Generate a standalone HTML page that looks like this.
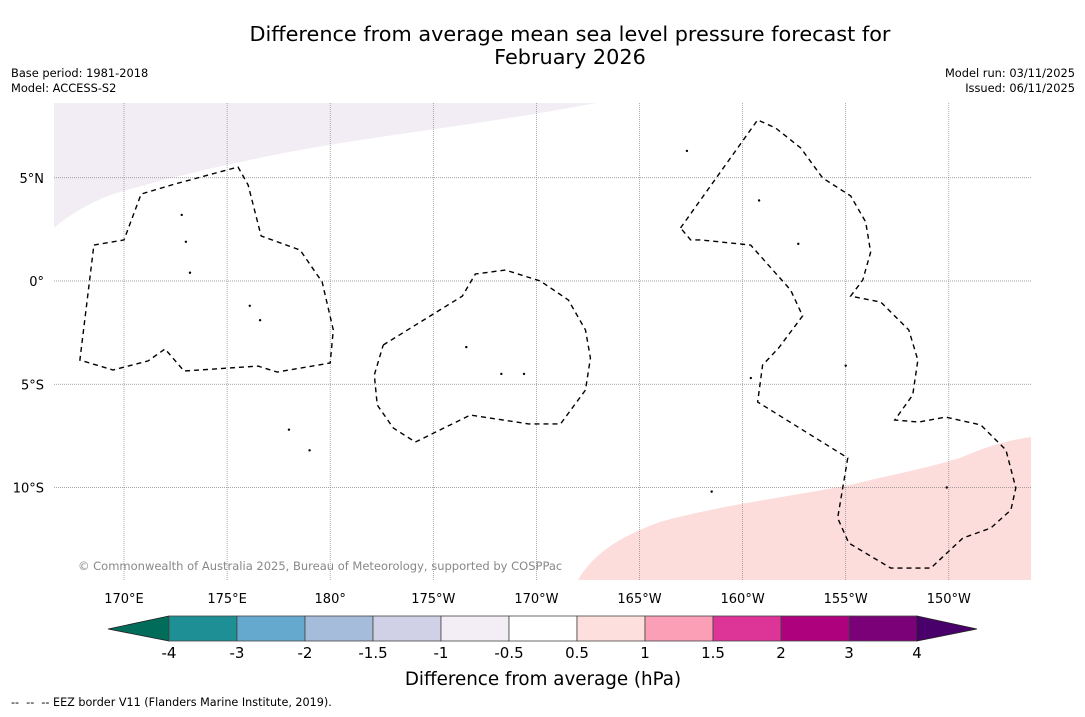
<!DOCTYPE html>
<html><head><meta charset="utf-8">
<style>
body{margin:0;background:#fff;width:1085px;height:713px;overflow:hidden;font-family:"DejaVu Sans","Liberation Sans",sans-serif;}
svg text{font-family:"DejaVu Sans","Liberation Sans",sans-serif;}
</style></head>
<body>
<svg id="c" width="1085" height="713" xmlns="http://www.w3.org/2000/svg">
<text x="570" y="41" font-size="20.8" text-anchor="middle">Difference from average mean sea level pressure forecast for</text>
<text x="570" y="64" font-size="20.8" text-anchor="middle">February 2026</text>
<text x="11" y="77" font-size="11.4">Base period: 1981-2018</text>
<text x="11" y="92" font-size="11.4">Model: ACCESS-S2</text>
<text x="1075" y="77" font-size="11.4" text-anchor="end">Model run: 03/11/2025</text>
<text x="1075" y="92" font-size="11.4" text-anchor="end">Issued: 06/11/2025</text>
<g id="map">
<path d="M54,103 L596,103 C480,125 380,135 300,150 C220,165 160,180 110,195 C85,205 65,218 54,228 Z" fill="#f2edf4"/>
<path d="M578,580 C590,560 610,540 660,522 C720,505 800,495 850,485 C890,475 920,470 960,458 C990,445 1010,440 1031,437 L1031,580 Z" fill="#fddcdc"/>
</g>
<g id="grid"></g>
<g id="eez"></g>
<g id="islands"></g>
<text x="78" y="570" font-size="11.5" fill="#888">© Commonwealth of Australia 2025, Bureau of Meteorology, supported by COSPPac</text>
<g id="cbar"></g>
<text x="543" y="685" font-size="18.3" text-anchor="middle">Difference from average (hPa)</text>
<text x="11" y="706" font-size="11.2" xml:space="preserve">--  --  -- EEZ border V11 (Flanders Marine Institute, 2019).</text>
</svg>
<script>
const lonTicks=[170,175,180,185,190,195,200,205,210];
const lonLabels=["170°E","175°E","180°","175°W","170°W","165°W","160°W","155°W","150°W"];
const latTicks=[5,0,-5,-10];
const latLabels=["5°N","0°","5°S","10°S"];
const cbLevels=["-4","-3","-2","-1.5","-1","-0.5","0.5","1","1.5","2","3","4"];
const cbColors=["#1f8f96","#66a9cf","#a6bcdb","#d0d1e6","#f3eef5","#ffffff","#fde0dd","#fa9fb5","#dd3497","#ae017e","#7a0177"];
const eez1Lon=[168.54,170,170.83,172.48,175.53,176.02,176.65,178.54,179.61,180.15,180,177.43,176.5,172.91,171.99,171.17,169.47,167.86,168.54];
const eez1Lat=[1.74,1.99,4.21,4.7,5.52,4.65,2.18,1.5,-0.05,-2.37,-3.97,-4.41,-4.12,-4.36,-3.29,-3.87,-4.31,-3.83,1.74];
const eez2Lon=[182.57,186.41,187.04,188.5,190.19,191.55,192.38,192.62,192.38,191.17,189.61,186.8,184.13,183.06,182.28,182.14,182.57];
const eez2Lat=[-3.1,-0.73,0.34,0.53,0,-0.92,-2.37,-3.73,-5.28,-6.92,-6.92,-6.49,-7.8,-7.12,-6.0,-4.55,-3.1];
const eez3Lon=[196.99,200.73,201.6,202.82,203.88,205.24,205.97,206.21,205.83,205.24,206.7,208.06,208.5,208.25,207.38,208.54,209.85,211.55,212.77,213.25,213.01,212.04,210.68,209.13,207.18,205.15,204.61,205.1,200.73,200.97,201.75,202.91,202.33,200.39,197.96,197.48,196.99];
const eez3Lat=[2.57,7.8,7.41,6.44,4.99,4.12,2.86,1.4,0.05,-0.73,-1.02,-2.37,-3.83,-5.52,-6.73,-6.83,-6.59,-6.97,-8.18,-10.02,-11.09,-11.96,-12.45,-13.9,-13.9,-12.69,-11.48,-8.57,-5.86,-4.07,-3.24,-1.69,-0.44,1.74,1.99,1.99,2.57];
const islandLon=[172.8,173.0,173.2,176.1,176.6,178.0,179.0,186.6,188.3,189.4,200.8,202.7,200.4,205,209.9,198.5,197.3];
const islandLat=[3.2,1.9,0.4,-1.2,-1.9,-7.2,-8.2,-3.2,-4.5,-4.5,3.9,1.8,-4.7,-4.1,-10.0,-10.2,6.3];
const X0=54,X1=1031,Y0=103,Y1=580;
const x=lon=>124+(lon-170)*20.62;
const y=lat=>281-lat*20.65;
const NS="http://www.w3.org/2000/svg";
function mk(t,a,p){const e=document.createElementNS(NS,t);for(const k in a)e.setAttribute(k,a[k]);p.appendChild(e);return e;}
const grid=document.getElementById('grid');
lonTicks.forEach((v,i)=>{
 const l=mk('line',{x1:x(v),x2:x(v),y1:Y0,y2:Y1,stroke:'#888','stroke-width':0.7,'stroke-dasharray':'1,1'},grid);
 
 
 const t=mk('text',{x:x(v),y:603,'font-size':13,'text-anchor':'middle'},grid);t.textContent=lonLabels[i];
 
 
});
latTicks.forEach((v,i)=>{
 const l=mk('line',{x1:X0,x2:X1,y1:y(v),y2:y(v),stroke:'#888','stroke-width':0.7,'stroke-dasharray':'1,1'},grid);
 
 
 const t=mk('text',{x:44,y:y(v)+5,'font-size':13,'text-anchor':'end'},grid);t.textContent=latLabels[i];
 
 
});
const eez=document.getElementById('eez');
[[eez1Lon,eez1Lat],[eez2Lon,eez2Lat],[eez3Lon,eez3Lat]].forEach(([lo,la])=>{
 const p=mk('polyline',{points:lo.map((v,i)=>x(v)+','+y(la[i])).join(' '),fill:'none',stroke:'#000','stroke-width':1.4,'stroke-dasharray':'5,4'},eez);
 
 
});
const isl=document.getElementById('islands');
islandLon.forEach((v,i)=>{
 const c=mk('circle',{cx:x(v),cy:y(islandLat[i]),r:1.2,fill:'#000'},isl);
 
 
});
const cb=document.getElementById('cbar');
const cbX0=169,cbW=68,cbY=616,cbH=25;
const tl=mk('polygon',{points:`108,629 ${cbX0},${cbY} ${cbX0},${cbY+cbH}`,fill:'#016c59',stroke:'#222','stroke-width':0.8},cb);


cbColors.forEach((c,i)=>{
 const r=mk('rect',{x:cbX0+i*cbW,y:cbY,width:cbW,height:cbH,fill:c,stroke:'#444','stroke-width':0.8},cb);
 
 
});
const xe=cbX0+cbColors.length*cbW;
const tr=mk('polygon',{points:`${xe},${cbY} ${xe+60},629 ${xe},${cbY+cbH}`,fill:'#49006a',stroke:'#222','stroke-width':0.8},cb);


cbLevels.forEach((v,i)=>{
 const t=mk('text',{x:cbX0+i*cbW,y:658,'font-size':15,'text-anchor':'middle'},cb);t.textContent=v;
 
 
});
</script>
</body></html>
